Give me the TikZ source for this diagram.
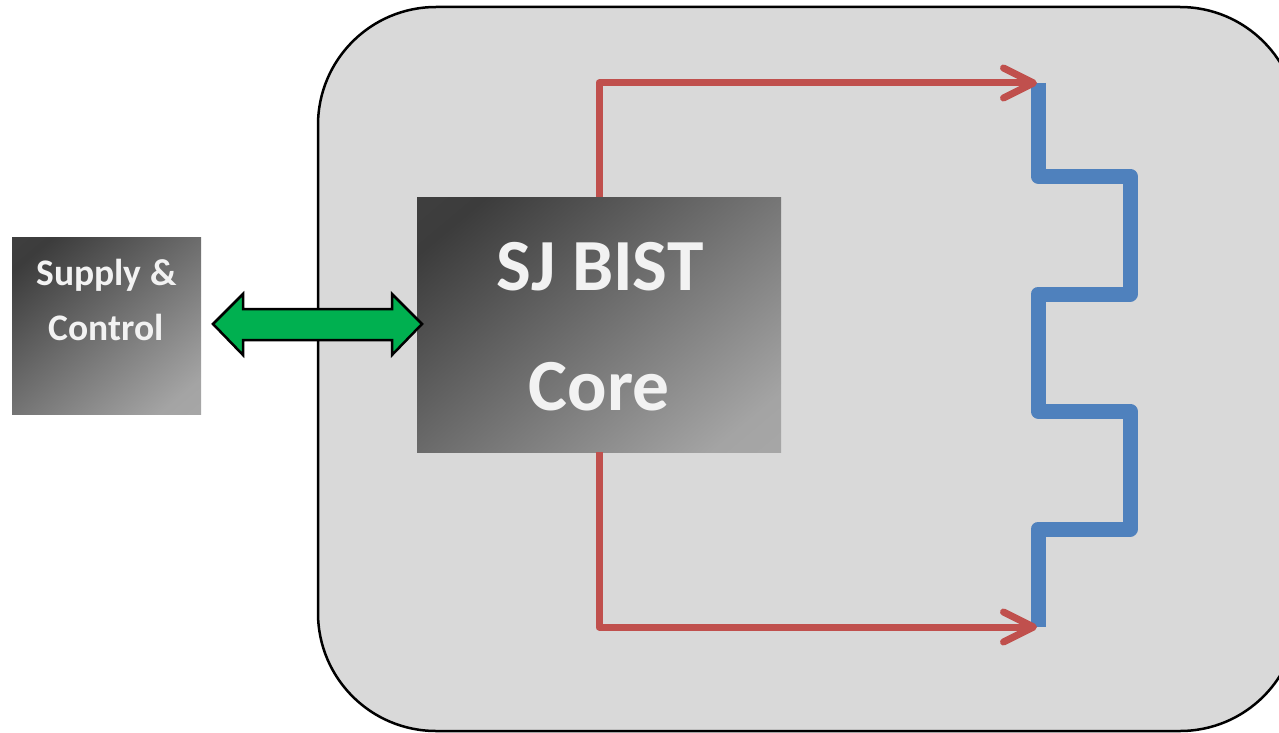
\documentclass[tikz,border=0pt]{standalone}
\usepackage{fontspec}
\setmainfont{Carlito}
\usetikzlibrary{arrows.meta,calc}

\definecolor{panelgray}{HTML}{D9D9D9}
\definecolor{boxdark}{HTML}{3C3C3C}
\definecolor{boxdarkedge}{HTML}{444444}
\definecolor{boxlight}{HTML}{A4A4A4}
\definecolor{boxlightedge}{HTML}{ABABAB}
\definecolor{txtwhite}{HTML}{F2F2F2}
\definecolor{linkgreen}{HTML}{00B050}
\definecolor{sigred}{HTML}{C0504D}
\definecolor{chainblue}{HTML}{4F81BD}

% soft diagonal grey ramp for the blocks
\pgfdeclareverticalshading{softgray}{100bp}{%
  color(0bp)=(boxlightedge); color(22bp)=(boxlight);
  color(78bp)=(boxdark); color(100bp)=(boxdarkedge)}

\tikzset{
  gradbox/.style={shading=softgray, shading angle=40, inner sep=0pt, outer sep=0pt},
  boxtext/.style={text=txtwhite, font=\bfseries, anchor=base, inner sep=0pt},
  sigline/.style={draw=sigred, line width=7pt, line join=round,
    -{Straight Barb[length=30pt, width=30pt, round]}},
  chain/.style={draw=chainblue, line width=15pt, line join=round},
  dblarrow/.style={fill=linkgreen, draw=black, line width=2.5pt, line join=miter}
}

\begin{document}
\begin{tikzpicture}[x=1pt, y=-1pt]
  \useasboundingbox (0,0) rectangle (1279,733);
  \clip (0,0) rectangle (1279,733);

  % chip outline
  \draw[fill=panelgray, line width=2.5pt, rounded corners=118pt]
    (318,7) rectangle (1298,731);

  % blocks
  \node[gradbox, minimum width=189pt, minimum height=177pt] (sup) at (106.5,325.5) {};
  \node[gradbox, minimum width=364pt, minimum height=255pt] (core) at (599,324.5) {};

  \node[boxtext, font=\bfseries\fontsize{37.5}{40}\selectfont] (supA) at (106.5,285) {Supply \&};
  \node[boxtext, font=\bfseries\fontsize{37.5}{40}\selectfont] (supB) at (106.5,340) {Control};
  \node[boxtext, font=\bfseries\fontsize{73.5}{80}\selectfont] (coreA) at (600,290) {SJ BIST};
  \node[boxtext, font=\bfseries\fontsize{73.5}{80}\selectfont] (coreB) at (599,410) {Core};

  % daisy chain under test
  \coordinate (chTop) at (1038,83);
  \coordinate (chBot) at (1038,627);
  \draw[chain] (chTop) -- (1038,176) -- (1130,176) -- (1130,294) -- (1038,294)
    -- (1038,411) -- (1130,411) -- (1130,529) -- (1038,529) -- (chBot);

  % stimulus and return paths
  \coordinate (tipTop) at ($(chTop)+(-1,0)$);
  \coordinate (tipBot) at ($(chBot)+(-1,0)$);
  \draw[sigline] (core.north) |- (tipTop);
  \draw[sigline] (core.south) |- (tipBot);

  % bidirectional link between supply and core
  \coordinate (gL) at ($(sup.east)+(12,-1.5)$);
  \coordinate (gR) at ($(core.west)+(5,-0.5)$);
  \draw[dblarrow]
    (gL) -- ++(30,-30) -- ++(0,15) -- ($(gR)+(-30,-15)$) -- ++(0,-15) -- (gR)
    -- ++(-30,31) -- ++(0,-15) -- ($(gL)+(30,16)$) -- ++(0,15) -- cycle;
\end{tikzpicture}
\end{document}
